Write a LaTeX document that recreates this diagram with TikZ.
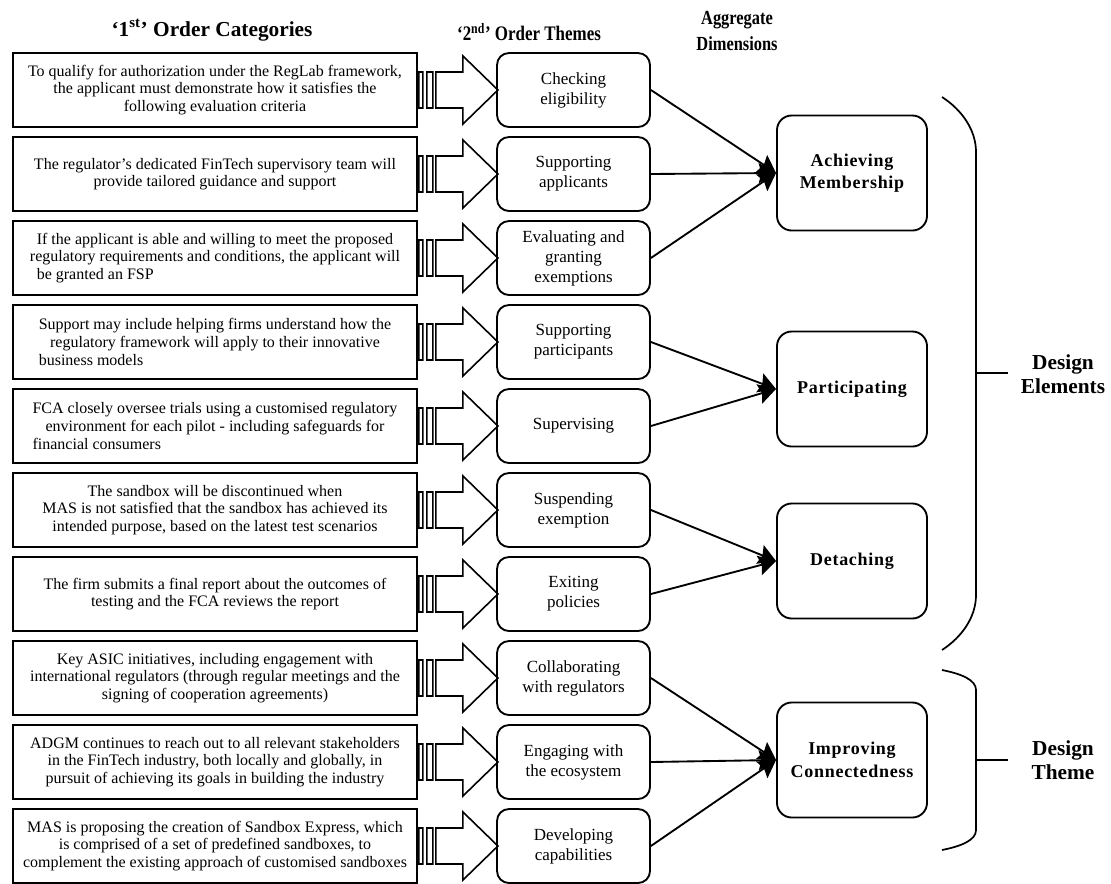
\documentclass[tikz,border=0pt]{standalone}
\usepackage{fontspec}
\setmainfont{Liberation Serif}
\newfontfamily\narrowserif[FakeStretch=0.82]{Liberation Serif}
\usetikzlibrary{arrows.meta}

% first line kept so the last line can start under it
\newsavebox\firstline
\newcommand{\firstof}[1]{\global\setbox\firstline\hbox{#1}\usebox\firstline}
\newcommand{\lastleft}[1]{\makebox[\wd\firstline][l]{#1}}

\tikzset{
  catbox/.style={draw, rectangle, line width=1.4pt, minimum width=303pt, minimum height=55.5pt,
    inner sep=0pt, align=center, font=\fontsize{12}{13.2}\selectfont},
  themebox/.style={draw, rectangle, rounded corners=9pt, line width=1.4pt, minimum width=114.75pt,
    minimum height=55.5pt, inner sep=0pt, align=center, font=\fontsize{12.75}{15}\selectfont},
  aggbox/.style={draw, rectangle, rounded corners=11pt, line width=1.4pt, minimum width=112.5pt,
    minimum height=86.25pt, inner sep=0pt, align=center,
    font=\fontsize{13.5}{17}\selectfont\bfseries\addfontfeature{LetterSpace=4}},
  headline/.style={align=center, font=\fontsize{15}{18}\selectfont\bfseries},
}

\begin{document}
\begin{tikzpicture}[x=0.75pt, y=-0.75pt]
  \useasboundingbox (0,0) rectangle (1111,883);

  % column heads
  \node[headline, font=\fontsize{16}{19}\selectfont\bfseries] (H1) at (212,30) {‘1\textsuperscript{st}’ Order Categories};
  \node[headline, font=\fontsize{15.5}{18}\selectfont\narrowserif\bfseries] (H2) at (529,32) {‘2\textsuperscript{nd}’ Order Themes};
  \node[headline, font=\fontsize{15}{20}\selectfont\narrowserif\bfseries] (H3) at (737,31) {Aggregate\\Dimensions};

  % 1st order categories
  \node[catbox] (C1) at (215,90) {To qualify for authorization under the RegLab framework,\\the applicant must demonstrate how it satisfies the\\following evaluation criteria};
  \node[catbox] (C2) at (215,174) {The regulator’s dedicated FinTech supervisory team will\\provide tailored guidance and support};
  \node[catbox] (C3) at (215,258) {\firstof{If the applicant is able and willing to meet the proposed}\\regulatory requirements and conditions, the applicant will\\\lastleft{be granted an FSP}};
  \node[catbox] (C4) at (215,342) {\firstof{Support may include helping firms understand how the}\\regulatory framework will apply to their innovative\\\lastleft{business models}};
  \node[catbox] (C5) at (215,426) {\firstof{FCA closely oversee trials using a customised regulatory}\\environment for each pilot - including safeguards for\\\lastleft{financial consumers}};
  \node[catbox] (C6) at (215,510) {The sandbox will be discontinued when\\MAS is not satisfied that the sandbox has achieved its\\intended purpose, based on the latest test scenarios};
  \node[catbox] (C7) at (215,594) {The firm submits a final report about the outcomes of\\testing and the FCA reviews the report};
  \node[catbox] (C8) at (215,678) {Key ASIC initiatives, including engagement with\\international regulators (through regular meetings and the\\signing of cooperation agreements)};
  \node[catbox] (C9) at (215,762) {ADGM continues to reach out to all relevant stakeholders\\in the FinTech industry, both locally and globally, in\\pursuit of achieving its goals in building the industry};
  \node[catbox] (C10) at (215,846) {MAS is proposing the creation of Sandbox Express, which\\is comprised of a set of predefined sandboxes, to\\complement the existing approach of customised sandboxes};

  % 2nd order themes
  \node[themebox] (T1) at (573.5,90) {Checking\\eligibility};
  \node[themebox] (T2) at (573.5,174) {Supporting\\applicants};
  \node[themebox] (T3) at (573.5,258) {Evaluating and\\granting\\exemptions};
  \node[themebox] (T4) at (573.5,342) {Supporting\\participants};
  \node[themebox] (T5) at (573.5,426) {Supervising};
  \node[themebox] (T6) at (573.5,510) {Suspending\\exemption};
  \node[themebox] (T7) at (573.5,594) {Exiting\\policies};
  \node[themebox] (T8) at (573.5,678) {Collaborating\\with regulators};
  \node[themebox] (T9) at (573.5,762) {Engaging with\\the ecosystem};
  \node[themebox] (T10) at (573.5,846) {Developing\\capabilities};

  % aggregate dimensions
  \node[aggbox] (A1) at (852,173) {Achieving\\Membership};
  \node[aggbox] (A2) at (852,389) {Participating};
  \node[aggbox] (A3) at (852,561) {Detaching};
  \node[aggbox] (A4) at (852,760) {Improving\\Connectedness};

  % striped block arrows
  \foreach \i in {1,...,10}
    \draw[line width=1.2pt, shift={(C\i.east)}]
      (1,-18) rectangle (5,18) (9,-18) rectangle (15,18)
      (18,-18) -- (45,-18) -- (45,-34) -- (80,0) -- (45,34) -- (45,18) -- (18,18) -- cycle;

  \begin{scope}[>={Stealth[length=13pt, width=15pt, inset=2pt]}, line width=1.4pt]
    \path [->] (T1.east) edge (A1.west);
    \path [->] (T2.east) edge (A1.west);
    \path [->] (T3.east) edge (A1.west);
    \path [->] (T4.east) edge (A2.west);
    \path [->] (T5.east) edge (A2.west);
    \path [->] (T6.east) edge (A3.west);
    \path [->] (T7.east) edge (A3.west);
    \path [->] (T8.east) edge (A4.west);
    \path [->] (T9.east) edge (A4.west);
    \path [->] (T10.east) edge (A4.west);
  \end{scope}

  % brackets and their labels
  \node[headline, font=\fontsize{16}{18}\selectfont\bfseries] (D1) at (1063,374) {Design\\Elements};
  \node[headline, font=\fontsize{16}{18}\selectfont\bfseries] (D2) at (1063,760) {Design\\Theme};
  \coordinate (b1) at (976,373);
  \coordinate (b2) at (976,760);
  \draw[line width=1.3pt] (942,97) .. controls (962,110) and (976,130) .. (976,152) -- (976,595)
    .. controls (976,617) and (962,637) .. (942,650);
  \draw[line width=1.3pt] (942,670) .. controls (962,674) and (976,680) .. (976,690) -- (976,830)
    .. controls (976,840) and (962,846) .. (942,850);
  \draw[line width=1.3pt] (b1) -- ++(32,0);
  \draw[line width=1.3pt] (b2) -- ++(32,0);
\end{tikzpicture}
\end{document}
